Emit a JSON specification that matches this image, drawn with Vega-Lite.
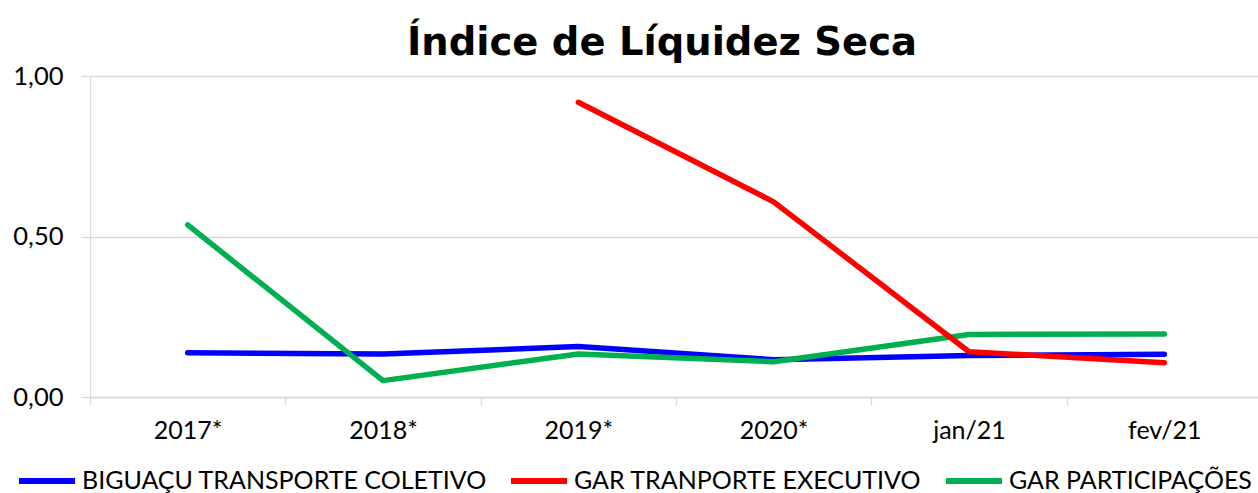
{
  "$schema": "https://vega.github.io/schema/vega-lite/v6.json",
  "autosize": {"type": "none"},
  "padding": {"left": 90, "top": 76, "right": 0, "bottom": 96},
  "width": 1172,
  "height": 321,
  "background": "white",
  "title": {
    "text": "Índice de Líquidez Seca",
    "font": "DejaVu Sans",
    "fontWeight": "bold",
    "fontSize": 38.5,
    "color": "#000000",
    "anchor": "middle",
    "baseline": "alphabetic",
    "offset": 19,
    "dy": 48,
    "dx": -14
  },
  "data": {
    "values": [
      {"periodo": "2017*", "empresa": "BIGUAÇU TRANSPORTE COLETIVO", "valor": 0.138},
      {"periodo": "2018*", "empresa": "BIGUAÇU TRANSPORTE COLETIVO", "valor": 0.134},
      {"periodo": "2019*", "empresa": "BIGUAÇU TRANSPORTE COLETIVO", "valor": 0.157},
      {"periodo": "2020*", "empresa": "BIGUAÇU TRANSPORTE COLETIVO", "valor": 0.116},
      {"periodo": "jan/21", "empresa": "BIGUAÇU TRANSPORTE COLETIVO", "valor": 0.129},
      {"periodo": "fev/21", "empresa": "BIGUAÇU TRANSPORTE COLETIVO", "valor": 0.133},
      {"periodo": "2017*", "empresa": "GAR PARTICIPAÇÕES", "valor": 0.536},
      {"periodo": "2018*", "empresa": "GAR PARTICIPAÇÕES", "valor": 0.051},
      {"periodo": "2019*", "empresa": "GAR PARTICIPAÇÕES", "valor": 0.134},
      {"periodo": "2020*", "empresa": "GAR PARTICIPAÇÕES", "valor": 0.11},
      {"periodo": "jan/21", "empresa": "GAR PARTICIPAÇÕES", "valor": 0.195},
      {"periodo": "fev/21", "empresa": "GAR PARTICIPAÇÕES", "valor": 0.196},
      {"periodo": "2019*", "empresa": "GAR TRANPORTE EXECUTIVO", "valor": 0.918},
      {"periodo": "2020*", "empresa": "GAR TRANPORTE EXECUTIVO", "valor": 0.608},
      {"periodo": "jan/21", "empresa": "GAR TRANPORTE EXECUTIVO", "valor": 0.141},
      {"periodo": "fev/21", "empresa": "GAR TRANPORTE EXECUTIVO", "valor": 0.107}
    ]
  },
  "mark": {"type": "line", "strokeWidth": 5.5, "strokeCap": "round", "strokeJoin": "round"},
  "encoding": {
    "x": {
      "field": "periodo",
      "type": "ordinal",
      "sort": ["2017*", "2018*", "2019*", "2020*", "jan/21", "fev/21"],
      "scale": {"type": "band", "paddingInner": 0, "paddingOuter": 0},
      "axis": {
        "title": null,
        "labelAngle": 0,
        "tickBand": "extent",
        "ticks": true,
        "tickSize": 8,
        "tickColor": "#d9d9d9",
        "tickWidth": 1.3,
        "domainColor": "#d9d9d9",
        "domainWidth": 1.3,
        "grid": false,
        "labelFont": "Lato",
        "labelFontSize": 25,
        "labelColor": "#000000",
        "labelPadding": 13
      }
    },
    "y": {
      "field": "valor",
      "type": "quantitative",
      "scale": {"domain": [0, 1], "nice": false},
      "axis": {
        "title": null,
        "values": [0, 0.5, 1],
        "labelExpr": "replace(format(datum.value, '.2f'), '.', ',')",
        "grid": true,
        "gridColor": "#d9d9d9",
        "gridWidth": 1.3,
        "domain": true,
        "domainColor": "#d9d9d9",
        "domainWidth": 1.3,
        "ticks": true,
        "tickSize": 9,
        "tickColor": "#d9d9d9",
        "tickWidth": 1.3,
        "labelFont": "Lato",
        "labelFontSize": 25.5,
        "labelColor": "#000000",
        "labelPadding": 18
      }
    },
    "color": {
      "field": "empresa",
      "type": "nominal",
      "scale": {
        "domain": ["BIGUAÇU TRANSPORTE COLETIVO", "GAR TRANPORTE EXECUTIVO", "GAR PARTICIPAÇÕES"],
        "range": ["#0000FF", "#FF0000", "#00B050"]
      },
      "legend": {
        "title": null,
        "orient": "none",
        "legendX": -74,
        "legendY": 374,
        "direction": "horizontal",
        "symbolType": "stroke",
        "symbolSize": 3136,
        "symbolStrokeWidth": 6,
        "labelFont": "Lato",
        "labelFontSize": 25,
        "labelColor": "#000000",
        "labelOffset": 4,
        "labelLimit": 0,
        "columnPadding": 12,
        "padding": 0
      }
    }
  }
}
